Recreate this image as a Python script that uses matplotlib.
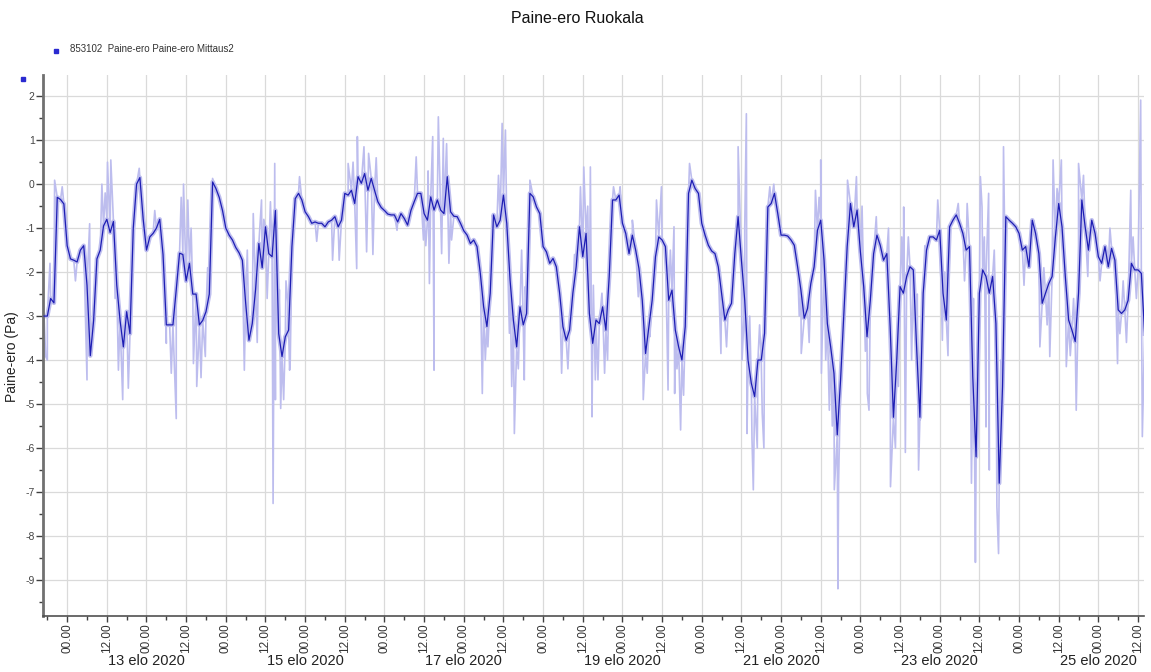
import datetime as dt
import numpy as np
import matplotlib
matplotlib.use("Agg")
import matplotlib.pyplot as plt
import matplotlib.dates as mdates
import matplotlib.transforms as mtransforms

plt.rcParams["font.family"] = ["Liberation Sans", "DejaVu Sans"]
plt.rcParams["axes.unicode_minus"] = False

# ---------------------------------------------------------------------------
# Data: pressure difference (Pa), hourly smoothed values starting 11.8.2020 17:00
# ---------------------------------------------------------------------------
series_start = dt.datetime(2020, 8, 11, 17, 0)
mean_values = [
    -3.0, -3.0, -2.6, -2.7, -0.3, -0.35, -0.45,                       # 11.8. 17-23
    -1.4, -1.7, -1.73, -1.77, -1.5, -1.4, -2.3, -3.9, -3.1, -1.7, -1.5, -0.95,
    -0.8, -1.1, -0.85, -2.3, -3.1, -3.7, -2.9, -3.4, -1.0, 0.0, 0.15, -0.8,   # 12.8.
    -1.5, -1.2, -1.12, -1.0, -0.8, -1.6, -3.2, -3.2, -3.2, -2.4, -1.57, -1.6,
    -2.2, -1.8, -2.5, -2.5, -3.2, -3.1, -2.9, -2.5, 0.05, -0.1, -0.3, -0.6,   # 13.8.
    -1.0, -1.16, -1.27, -1.44, -1.56, -1.73, -2.7, -3.55, -3.17, -2.4, -1.35, -1.9,
    -0.97, -1.58, -1.65, -0.6, -3.4, -3.92, -3.47, -3.32, -1.42, -0.33, -0.21, -0.36,  # 14.8.
    -0.63, -0.74, -0.89, -0.86, -0.89, -0.89, -0.97, -0.86, -0.82, -0.74, -0.97, -0.82,
    -0.21, -0.25, -0.14, -0.44, 0.17, 0.02, 0.24, -0.14, 0.13, -0.14, -0.4, -0.53,      # 15.8.
    -0.6, -0.68, -0.7, -0.7, -0.86, -0.67, -0.78, -0.93, -0.6, -0.4, -0.21, -0.21,
    -0.67, -0.82, -0.29, -0.59, -0.36, -0.59, -0.67, 0.17, -0.63, -0.73, -0.74, -0.89,  # 16.8.
    -1.06, -1.16, -1.35, -1.27, -1.42, -2.03, -2.79, -3.24, -2.48, -0.7, -0.97, -0.82,
    -0.25, -0.89, -2.18, -3.09, -3.7, -2.79, -3.2, -2.94, -0.21, -0.29, -0.52, -0.67,   # 17.8.
    -1.42, -1.54, -1.8, -1.69, -1.88, -2.48, -3.24, -3.55, -3.32, -2.48, -1.88, -0.97,
    -1.65, -1.12, -2.94, -3.62, -3.09, -3.17, -2.79, -3.32, -2.1, -0.36, -0.36, -0.25,  # 18.8.
    -0.89, -1.12, -1.58, -1.16, -1.5, -1.92, -2.64, -3.85, -3.24, -2.64, -1.65, -1.2,
    -1.27, -1.42, -2.64, -2.41, -3.32, -3.7, -4.0, -3.24, -0.21, 0.09, -0.1, -0.21,     # 19.8.
    -0.89, -1.16, -1.39, -1.52, -1.58, -1.88, -2.48, -3.09, -2.86, -2.71, -1.58, -0.74,
    -1.73, -2.64, -4.0, -4.53, -4.83, -4.0, -4.0, -3.39, -0.52, -0.44, -0.21, -0.67,    # 20.8.
    -1.16, -1.16, -1.18, -1.27, -1.39, -1.88, -2.41, -3.05, -2.83, -2.26, -1.88, -1.05,
    -0.82, -1.73, -3.17, -3.7, -4.3, -5.7, -4.45, -2.94, -1.42, -0.44, -0.97, -0.59,    # 21.8.
    -1.54, -2.33, -3.47, -2.64, -1.58, -1.16, -1.39, -1.73, -1.58, -3.24, -5.3, -4.0,
    -2.33, -2.48, -2.1, -1.88, -1.95, -3.7, -5.3, -2.48, -1.5, -1.2, -1.2, -1.27,       # 22.8.
    -1.05, -2.48, -3.09, -0.97, -0.82, -0.7, -0.89, -1.12, -1.5, -1.42, -4.38, -6.2,
    -2.48, -1.95, -2.1, -2.48, -2.1, -3.17, -6.8, -4.61, -0.74, -0.82, -0.89, -0.97,    # 23.8.
    -1.12, -1.5, -1.42, -1.88, -0.82, -1.12, -1.58, -2.71, -2.48, -2.26, -2.1, -1.2,
    -0.44, -0.97, -2.1, -3.09, -3.32, -3.58, -2.48, -0.36, -0.97, -1.5, -0.82, -1.12,   # 24.8.
    -1.65, -1.8, -1.42, -1.88, -1.46, -1.73, -2.86, -2.94, -2.86, -2.64, -1.8, -1.95,
    -1.95, -2.03, -3.4,                                                   # 25.8.
]

# Raw measurement excursions: hours after 12.8.2020 00:00 and value (Pa)
spike_hours = [
    -6.5, -5.2, -3.8, -1.5, 2.5, 6.0, 6.8, 10.5, 13.2, 15.5, 16.8, 18.5, 21.8,
    30.0, 33.0, 35.2, 36.5, 38.2, 39.2, 41.8, 44.0,
    53.6, 56.3, 58.8, 62.3, 62.8, 63.0, 64.6, 66.8, 67.3, 70.3, 80.3, 82.3,
    85.0, 87.6, 87.8, 89.8, 90.6, 91.2, 99.8,
    105.6, 107.8, 109.6, 110.6, 111.0, 112.3, 113.3, 113.8, 114.8, 116.3,
    125.6, 127.3, 131.6, 132.6, 133.8, 135.3, 138.3, 138.6, 140.0, 149.6,
    155.3, 156.3, 158.3, 158.8, 159.8,
    160.6, 161.8, 162.6, 165.3, 167.3, 171.0, 172.8, 174.3, 176.3, 178.3,
    179.8, 181.8, 183.6, 183.8, 185.6, 188.3, 197.8, 203.0, 204.2, 205.5,
    205.7, 207.6, 208.8, 210.3, 212.6, 213.8,
    222.1, 226.4, 228.0, 228.2, 230.6, 232.1, 233.2, 233.4, 236.1, 238.8,
    242.1, 242.6, 244.8, 249.1, 250.6, 253.1, 253.6, 257.6, 258.1, 263.4,
    264.8, 269.6,
    272.3, 273.6, 274.8, 276.3, 276.8, 278.0, 278.8, 279.0, 281.3, 281.8,
    283.3, 291.3, 294.3, 297.3, 298.3, 300.8, 302.3, 305.3, 306.0, 308.8,
    317.8, 321.8, 324.8, 325.3,
    -6.0, 11.5, 12.2, 14.5, 26.5, 29.5, 31.5, 34.5, 37.5, 40.5,
    42.5, 54.5, 57.5, 59.5, 60.5, 61.5, 64.2, 65.5, 66.2, 67.5,
    75.5, 86.5, 92.5, 93.5, 108.5, 109.2, 115.5, 126.5, 130.5, 134.5,
    136.5, 137.5, 151.5, 153.5, 157.5, 159.2, 163.5, 175.5, 177.5, 182.5,
    184.5, 186.5, 199.5, 205.0, 206.5, 207.2, 209.5, 210.8, 221.5, 224.5,
    227.5, 229.5, 231.5, 234.6, 240.5, 241.5, 243.5, 248.5, 251.5, 252.5,
    254.5, 255.5, 257.2, 259.5, 265.5, 266.5, 271.5, 274.2, 275.5, 277.5,
    280.5, 282.5, 283.8, 289.5, 295.5, 296.5, 299.5, 303.5, 304.5, 307.5,
    312.5, 315.5, 318.5, 319.5, 320.5, 322.5, 323.5,
]
spike_values = [
    -3.92, -1.8, 0.09, -0.06, -2.2, -4.45, -0.9, 0.0, 0.55, -4.23, -4.9, -4.64, 0.36,
    -3.62, -5.33, 0.0, -0.36, -4.08, -4.6, -3.92, 0.13,
    -4.23, -0.67, -0.36, -7.26, 0.47, -4.9, -5.1, -2.71, -4.23, 0.17, -1.73, -1.73,
    0.47, -1.92, 1.08, 0.85, -1.54, 0.7, -1.05,
    0.62, -1.27, -2.26, 1.08, -4.23, 1.53, -1.58, 1.04, 0.92, -1.27,
    -4.76, -3.7, 1.38, 1.23, -3.39, -5.67, -4.45, -2.33, 0.09, -4.3,
    -0.06, 0.39, 0.39, -5.29, -4.45,
    -4.45, -2.48, -4.3, -0.06, -0.06, -0.82, -2.56, -4.9, -3.47, -0.36,
    -0.06, -4.68, -0.97, -4.76, -5.59, 0.47, -3.85, 0.85, -4.0, 1.6,
    -5.67, -6.95, -6.0, -5.21, -0.06, 0.0,
    -3.85, -0.14, 0.55, -4.3, -5.14, -6.95, -9.2, -6.8, 0.09, 0.17,
    -4.76, -5.14, -0.74, -6.88, -6.0, -0.52, -6.1, -6.5, -5.36, -0.36,
    -3.55, -0.44,
    -0.44, -6.8, -8.6, 0.17, -0.52, -5.52, -0.21, -6.5, -7.33, -8.4,
    0.85, -1.8, -3.7, -3.92, 0.55, 0.55, -4.15, -5.14, 0.47, -2.1,
    -4.08, -0.14, 1.91, -5.74,
    -4.0, -0.2, 0.5, -2.6, -0.6, -2.2, -4.3, -0.3, -1.0, -4.4,
    -1.9, -1.5, -3.6, -0.8, -2.6, -0.4, -2.4, -4.9, -2.2, -4.0,
    -1.3, 0.5, -1.6, 0.6, -1.4, 0.3, -1.8, -4.0, 0.2, -4.6,
    -4.2, -1.5, -4.2, -1.6, -0.5, -2.3, -4.0, -4.3, -1.8, -1.5,
    -4.2, -4.8, -3.7, -1.0, -3.0, -5.8, -3.2, -6.0, -3.0, -3.6,
    -0.3, -4.0, -5.5, -3.6, -0.5, -3.8, -2.0, -1.0, -4.6, -1.2,
    -1.2, -4.0, -2.5, -1.4, -2.0, -3.9, -2.2, -2.6, -4.0, -1.2,
    -1.5, -4.0, -2.0, -2.3, -1.9, -3.2, -0.1, -3.9, -2.6, 0.2,
    -2.2, -1.0, -3.4, -2.2, -3.6, -1.2, -2.6,
]

date_label_days = [13, 15, 17, 19, 21, 23, 25]
y_ticks = list(range(-9, 3))

# ---------------------------------------------------------------------------
base = dt.datetime(2020, 8, 12)
mean_times = [series_start + dt.timedelta(hours=i) for i in range(len(mean_values))]
spike_times = [base + dt.timedelta(hours=h) for h in spike_hours]

# raw trace: hourly readings together with the short-lived excursions between them
raw_pairs = sorted(list(zip(mean_times, mean_values)) + list(zip(spike_times, spike_values)))
raw_times = [p[0] for p in raw_pairs]
raw_values = [p[1] for p in raw_pairs]

fig = plt.figure(figsize=(11.51, 6.72), dpi=100)
ax = fig.add_axes([0.0374, 0.0833, 0.9565, 0.805])

dark = "#1e1eb4"
light = "#bdbdee"

ax.plot(mean_times, mean_values, color=light, lw=3.2, zorder=2)
ax.plot(raw_times, raw_values, color=light, lw=1.2, zorder=2)
ax.plot(mean_times, mean_values, color=dark, lw=0.9, zorder=3)

ax.set_xlim(base - dt.timedelta(hours=7.3), base + dt.timedelta(hours=325.8))
ax.set_ylim(-9.82, 2.48)

ax.xaxis.set_major_locator(mdates.HourLocator(byhour=[0, 12]))
ax.xaxis.set_major_formatter(mdates.DateFormatter("%H.%M"))
ax.xaxis.set_minor_locator(mdates.HourLocator(byhour=[6, 18]))
ax.set_yticks(y_ticks)
ax.set_yticklabels([str(v) for v in y_ticks])
ax.set_yticks(np.arange(-9.5, 2.5, 1.0), minor=True)

ax.grid(True, which="major", color="#dadada", lw=0.9)
ax.set_axisbelow(True)

for side in ("top", "right"):
    ax.spines[side].set_visible(False)
ax.spines["left"].set_color("#707070")
ax.spines["left"].set_linewidth(2.0)
ax.spines["bottom"].set_color("#505050")
ax.spines["bottom"].set_linewidth(1.2)

ax.tick_params(axis="x", which="major", labelrotation=90, labelsize=8.5,
               length=4, width=1, color="#404040", labelcolor="#333333", pad=1.5)
ax.tick_params(axis="x", which="minor", length=3, width=1, color="#404040")
ax.tick_params(axis="y", which="major", labelsize=7.5, length=5, width=1,
               color="#404040", labelcolor="#444444", pad=1)
ax.tick_params(axis="y", which="minor", length=3, width=1, color="#404040")

ax.set_ylabel("Paine-ero (Pa)", fontsize=10, color="#222222", labelpad=4)
ax.yaxis.set_label_coords(-0.022, 0.48)

date_tf = mtransforms.blended_transform_factory(ax.transData, fig.transFigure)
for d in date_label_days:
    ax.text(dt.datetime(2020, 8, d), 0.017, f"{d} elo 2020", transform=date_tf,
            ha="center", va="center", fontsize=10.5, color="#222222")

fig.text(0.5015, 0.972, "Paine-ero Ruokala", ha="center", va="center",
         fontsize=11.5, color="#111111")

# series key
fig.patches.append(plt.Rectangle((0.047, 0.921), 0.0035, 0.006, color="#2a2ad0",
                                 transform=fig.transFigure, figure=fig))
fig.text(0.0605, 0.927, "853102  Paine-ero Paine-ero Mittaus2", ha="left",
         va="center", fontsize=7, color="#333333")
fig.patches.append(plt.Rectangle((0.0185, 0.880), 0.0035, 0.006, color="#2a2ad0",
                                 transform=fig.transFigure, figure=fig))

fig.savefig("out.png", dpi=100)
